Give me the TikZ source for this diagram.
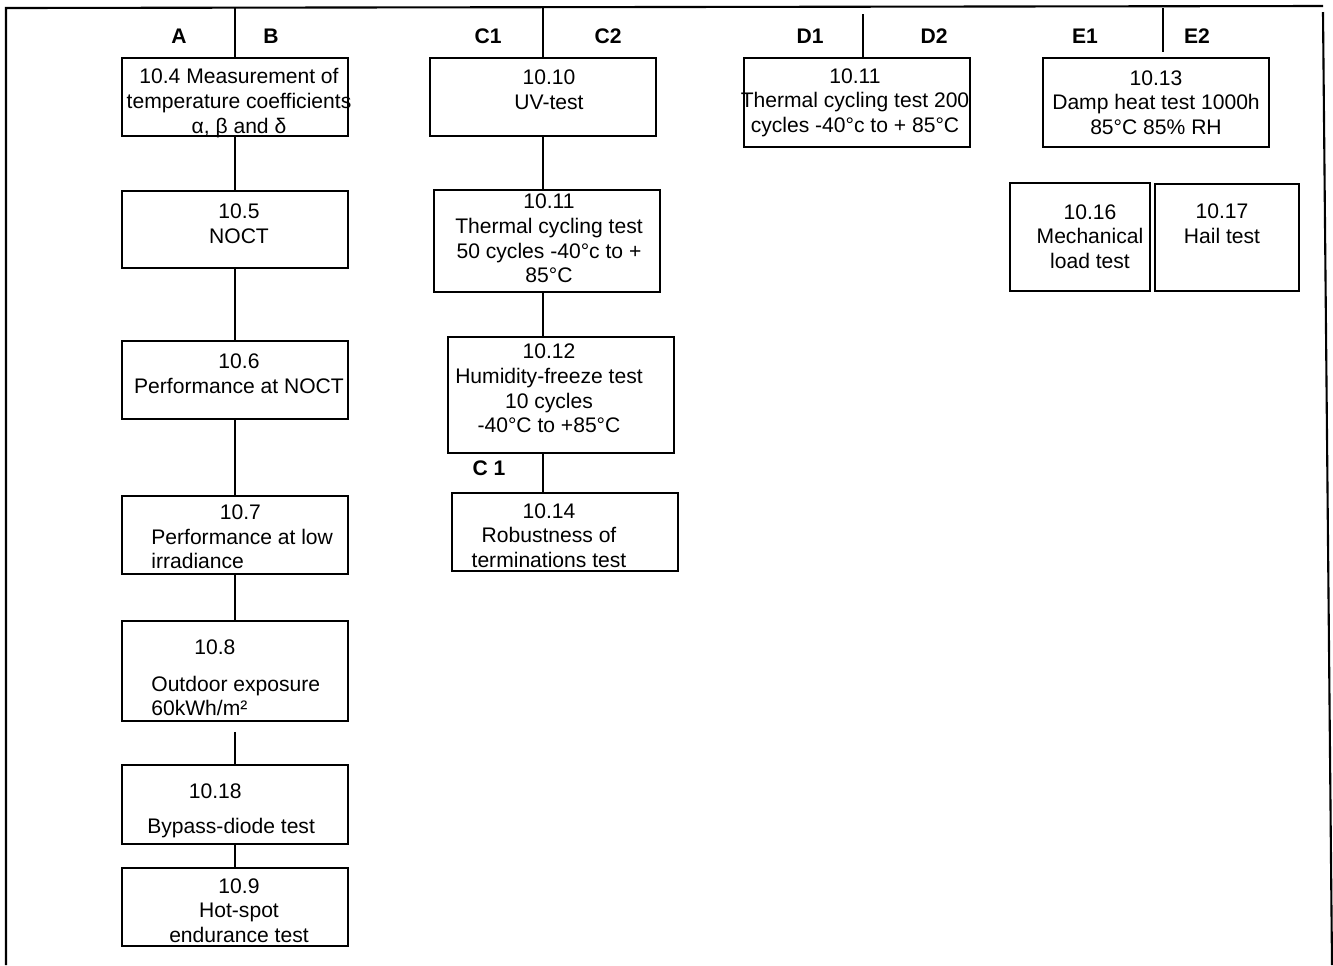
\documentclass[tikz,border=0pt]{standalone}
\usepackage{fontspec}
\setmainfont{Liberation Sans}

\tikzset{
  box/.style={draw, line width=1pt, minimum width=4.52cm, minimum height=1.56cm, inner sep=0pt},
  txt/.style={align=center, inner sep=0pt, font=\fontsize{12}{14}\selectfont},
  lbl/.style={inner sep=0pt, font=\fontsize{12}{14}\selectfont\bfseries},
  link/.style={line width=1pt},
  frame/.style={line width=1.2pt},
}

\begin{document}
\begin{tikzpicture}[x=0.02cm, y=-0.02cm]
\useasboundingbox (0,0) rectangle (1333,965);

% outer frame
\coordinate (tl) at (6,8);
\coordinate (tr) at (1323,6);
\coordinate (bl) at (6,965);
\coordinate (rt) at (1323,12);
\coordinate (rb) at (1332,965);
\draw[frame] (bl) -- (tl) -- (tr);
\draw[frame] (rt) -- (rb);

% sequence A / B
\node[lbl] (la) at (179,36) {A};
\node[lbl] (lb) at (271,36) {B};
\node[box] (b104) at (235,97) {};
\node[txt] (t104) at (239,103) {10.4 Measurement of\\temperature coefficients\\α, β and δ};
\node[box, minimum height=1.54cm] (b105) at (235,229.5) {};
\node[txt] (t105) at (239,224) {10.5\\NOCT};
\node[box] (b106) at (235,380) {};
\node[txt] (t106) at (239,374) {10.6\\Performance at NOCT};
\node[box] (b107) at (235,535) {};
\node[txt, anchor=west, align=left] (t107) at (151,537) {\hspace*{1.37cm}10.7\\Performance at low\\irradiance};
\node[box, minimum height=2cm] (b108) at (235,671) {};
\node[txt, anchor=west, align=left] (t108) at (151,678) {\hspace*{0.86cm}10.8\\[0.23cm]Outdoor exposure\\60kWh/m²};
\node[box, minimum height=1.58cm] (b1018) at (235,804.5) {};
\node[txt, anchor=west, align=left] (t1018) at (147,810.5) {\hspace*{0.83cm}10.18\\[0.21cm]Bypass-diode test};
\node[box] (b109) at (235,907) {};
\node[txt] (t109) at (239,910.5) {10.9\\Hot-spot\\endurance test};

\draw[link] (b104.north) -- (b104.north |- tl);
\draw[link] (b104) -- (b105);
\draw[link] (b105) -- (b106);
\draw[link] (b106) -- (b107);
\draw[link] (b107) -- (b108);
\draw[link, shorten <=0.2cm] (b108) -- (b1018);
\draw[link] (b1018) -- (b109);

% sequence C1 / C2
\node[lbl] (lc1) at (488,36) {C1};
\node[lbl] (lc2) at (608,36) {C2};
\node[box] (b1010) at (543,97) {};
\node[txt] (t1010) at (549,90) {10.10\\UV-test};
\node[box, minimum height=2.04cm] (b1011) at (547,241) {};
\node[txt] (t1011) at (549,238.5) {10.11\\Thermal cycling test\\50 cycles -40°c to +\\85°C};
\node[box, minimum height=2.32cm] (b1012) at (561,395) {};
\node[txt] (t1012) at (549,388.5) {10.12\\Humidity-freeze test\\10 cycles\\-40°C to +85°C};
\node[lbl] (lc1b) at (489,468) {C 1};
\node[box] (b1014) at (565,532) {};
\node[txt] (t1014) at (549,535.5) {10.14\\Robustness of\\terminations test};

\draw[link] (b1010.north) -- (b1010.north |- tl);
\draw[link] (b1010) -- (b1010 |- b1011.north);
\draw[link] (b1011.south -| b1010) -- (b1010 |- b1012.north);
\draw[link] (b1012.south -| b1010) -- (b1010 |- b1014.north);

% sequence D1 / D2
\node[lbl] (ld1) at (810,36) {D1};
\node[lbl] (ld2) at (934,36) {D2};
\node[box, minimum height=1.78cm] (b1011d) at (857,102.5) {};
\node[txt] (t1011d) at (855,102.5) {10.11\\Thermal cycling test 200\\cycles -40°c to + 85°C};
\coordinate (dtop) at (863,14);
\draw[link] (dtop) -- (dtop |- b1011d.north);

% sequence E1 / E2
\node[lbl] (le1) at (1085,36) {E1};
\node[lbl] (le2) at (1197,36) {E2};
\node[box, minimum height=1.78cm] (b1013) at (1156,102.5) {};
\node[txt] (t1013) at (1156,102.5) {10.13\\Damp heat test 1000h\\85°C 85\% RH};
\node[box, minimum width=2.8cm, minimum height=2.16cm] (b1016) at (1080,237) {};
\node[txt] (t1016) at (1090,236.5) {10.16\\Mechanical\\load test};
\node[box, minimum width=2.88cm, minimum height=2.14cm] (b1017) at (1227,237.5) {};
\node[txt] (t1017) at (1222,224) {10.17\\Hail test};
\coordinate (etop) at (1163,8);
\coordinate (ebot) at (1163,52);
\draw[link] (etop) -- (ebot);

\end{tikzpicture}
\end{document}
